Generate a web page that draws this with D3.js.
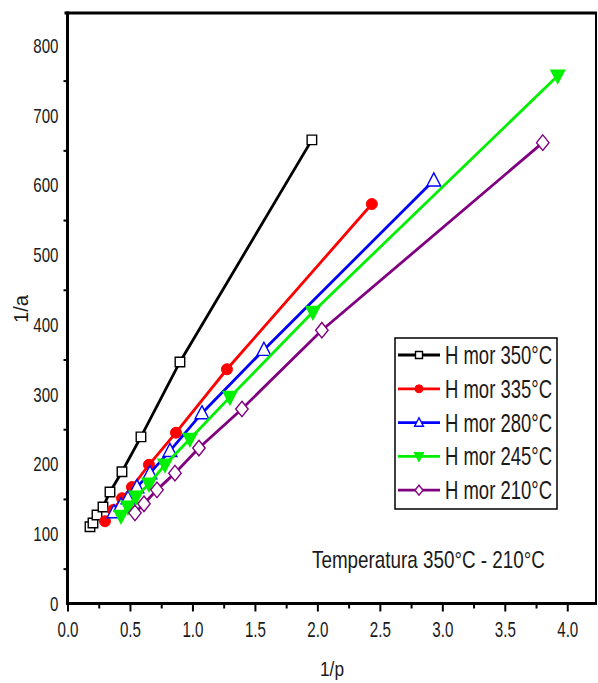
<!DOCTYPE html>
<html><head><meta charset="utf-8">
<script src="https://cdn.jsdelivr.net/npm/d3@7"></script>
<style>body{margin:0;background:#fff}svg{display:block}</style>
</head><body>
<svg id="chart" width="598" height="683"></svg>
<script>
// ---- data ----
const seriesNames = ["H mor 350°C", "H mor 335°C", "H mor 280°C", "H mor 245°C", "H mor 210°C"];
const seriesColors = ["#000000", "#ff0000", "#0000ff", "#00f000", "#800080"];
const seriesMarkers = ["square", "circle", "triangleUp", "triangleDown", "diamond"];

const x350 = [0.18, 0.204, 0.236, 0.284, 0.34, 0.436, 0.588, 0.90, 1.956];
const y350 = [110, 115.5, 127, 138.5, 160, 189, 239, 346.5, 665];

const x335 = [0.30, 0.364, 0.436, 0.516, 0.652, 0.868, 1.276, 2.436];
const y335 = [118, 134, 151, 167, 199, 245, 336, 573];

const x280 = [0.372, 0.428, 0.484, 0.556, 0.66, 0.82, 1.076, 1.572, 2.932];
const y280 = [131, 141, 151, 167, 187, 219, 273, 364, 607];

const x245 = [0.428, 0.484, 0.548, 0.652, 0.78, 0.98, 1.30, 1.964, 3.924];
const y245 = [125.5, 138.5, 153, 171.5, 199, 236, 296, 418, 757];

const x210 = [0.54, 0.612, 0.716, 0.86, 1.052, 1.396, 2.036, 3.804];
const y210 = [130, 143, 163, 187, 223, 279, 392, 661];

const xTicks = [0, 0.5, 1.0, 1.5, 2.0, 2.5, 3.0, 3.5, 4.0];
const xMinorTicks = [0.25, 0.75, 1.25, 1.75, 2.25, 2.75, 3.25, 3.75];
const yTicks = [0, 100, 200, 300, 400, 500, 600, 700, 800];
const yMinorTicks = [50, 150, 250, 350, 450, 550, 650, 750];

const xTitle = "1/p";
const yTitle = "1/a";
const annotation = "Temperatura 350°C - 210°C";

// ---- build ----
const xs = [x350, x335, x280, x245, x210];
const ys = [y350, y335, y280, y245, y210];
const series = seriesNames.map((name, i) => ({
  name, color: seriesColors[i], marker: seriesMarkers[i],
  points: xs[i].map((xv, j) => ({x: xv, y: ys[i][j]}))
}));

const FONT = "'Liberation Sans', Arial, sans-serif";
const svg = d3.select("#chart");
const L = 67.5, R = 596, T = 13, B = 603.5;
const x = d3.scaleLinear().domain([0, 4.23]).range([L, R]);
const y = d3.scaleLinear().domain([0, 847]).range([B, T]);

function charWidth(s, dw) {
  let w = 0;
  for (const ch of s) w += (ch === "." ? dw * 0.45 : dw);
  return w;
}

// frame top & right
svg.append("line").attr("x1", L - 3).attr("x2", R + 1).attr("y1", T).attr("y2", T)
  .attr("stroke", "#000").attr("stroke-width", 3);
svg.append("line").attr("x1", R).attr("x2", R).attr("y1", T).attr("y2", B)
  .attr("stroke", "#000").attr("stroke-width", 2);

// x axis
const gx = svg.append("g").attr("transform", `translate(0,${B})`)
  .call(d3.axisBottom(x).tickValues(xTicks).tickSize(8).tickFormat(d3.format(".1f")));
gx.select(".domain").attr("stroke-width", 3).attr("d", `M${L - 1.5},0H${R + 1}`);
gx.selectAll(".tick line").attr("stroke-width", 2);
gx.selectAll(".tick text")
  .attr("y", 33).attr("dy", 0)
  .attr("font-family", FONT).attr("font-size", 22).attr("fill", "#1a1a1a")
  .attr("textLength", d => charWidth(d3.format(".1f")(d), 8.6))
  .attr("lengthAdjust", "spacingAndGlyphs");
svg.append("g").attr("transform", `translate(0,${B})`)
  .call(d3.axisBottom(x).tickValues(xMinorTicks).tickSize(5).tickFormat(""))
  .call(g => g.select(".domain").remove())
  .selectAll(".tick line").attr("stroke-width", 2);

// y axis
const gy = svg.append("g").attr("transform", `translate(${L},0)`)
  .call(d3.axisLeft(y).tickValues(yTicks).tickSize(0).tickPadding(9));
gy.select(".domain").attr("stroke-width", 3).attr("d", `M0,${B + 1.5}V${T - 1.5}`);
gy.selectAll(".tick text")
  .attr("font-family", FONT).attr("font-size", 21).attr("fill", "#1a1a1a")
  .attr("textLength", d => charWidth(String(d), 8.4))
  .attr("lengthAdjust", "spacingAndGlyphs");
svg.append("g").attr("transform", `translate(${L},0)`)
  .call(d3.axisLeft(y).tickValues(yMinorTicks).tickSize(4).tickFormat(""))
  .call(g => g.select(".domain").remove())
  .selectAll(".tick line").attr("stroke-width", 2);

// axis titles
svg.append("text").attr("x", 332).attr("y", 676).attr("text-anchor", "middle")
  .attr("font-family", FONT).attr("font-size", 21).attr("fill", "#1a1a1a")
  .attr("textLength", 24).attr("lengthAdjust", "spacingAndGlyphs").text(xTitle);
svg.append("text").attr("transform", "translate(28,309) rotate(-90)").attr("text-anchor", "middle")
  .attr("font-family", FONT).attr("font-size", 20).attr("fill", "#1a1a1a")
  .attr("textLength", 28).attr("lengthAdjust", "spacingAndGlyphs").text(yTitle);

// markers
function markerPath(type, s) {
  const h = s / 2;
  switch (type) {
    case "square": return `M${-h},${-h}H${h}V${h}H${-h}Z`;
    case "triangleUp": return `M0,${-s * 0.6}L${s * 0.55},${s * 0.45}L${-s * 0.55},${s * 0.45}Z`;
    case "triangleDown": return `M0,${s * 0.6}L${s * 0.55},${-s * 0.45}L${-s * 0.55},${-s * 0.45}Z`;
    case "diamond": return `M0,${-s * 0.62}L${s * 0.5},0L0,${s * 0.62}L${-s * 0.5},0Z`;
    default: return null;
  }
}
function drawMarker(g, type, color, s) {
  if (type === "circle") {
    g.append("circle").attr("r", s * 0.5).attr("fill", color).attr("stroke", color).attr("stroke-width", 1);
  } else {
    const filled = type === "triangleDown";
    g.append("path").attr("d", markerPath(type, s))
      .attr("fill", filled ? color : "#fff").attr("stroke", color).attr("stroke-width", 1.4);
  }
}

const line = d3.line().x(d => x(d.x)).y(d => y(d.y));
series.forEach(s => {
  const g = svg.append("g");
  g.append("path").datum(s.points).attr("d", line)
    .attr("fill", "none").attr("stroke", s.color).attr("stroke-width", 2.8);
  s.points.forEach(p => {
    const mg = g.append("g").attr("transform", `translate(${x(p.x)},${y(p.y)})`);
    drawMarker(mg, s.marker, s.color, s.marker === "square" ? 9.5 : (s.marker === "circle" ? 11 : 12.5));
  });
});

// legend
const lg = svg.append("g");
lg.append("rect").attr("x", 395).attr("y", 338).attr("width", 162).attr("height", 171)
  .attr("fill", "#fff").attr("stroke", "#000").attr("stroke-width", 1.5);
series.forEach((s, i) => {
  const cy = 355 + i * 33.8;
  lg.append("line").attr("x1", 398).attr("x2", 440).attr("y1", cy).attr("y2", cy)
    .attr("stroke", s.color).attr("stroke-width", 2.8);
  const mg = lg.append("g").attr("transform", `translate(419,${cy})`);
  drawMarker(mg, s.marker, s.color, s.marker === "square" ? 7 : 8);
  lg.append("text").attr("x", 445).attr("y", cy + 9)
    .attr("font-family", FONT).attr("font-size", 25).attr("fill", "#1a1a1a")
    .attr("textLength", 107).attr("lengthAdjust", "spacingAndGlyphs").text(s.name);
});

// annotation (horizontally condensed like the reference)
const ann = svg.append("text").attr("font-family", FONT).attr("font-size", 24).attr("fill", "#1a1a1a")
  .text(annotation);
const natW = ann.node().getComputedTextLength();
ann.attr("transform", `translate(312,568) scale(${233 / natW},1)`);
</script>
</body></html>
